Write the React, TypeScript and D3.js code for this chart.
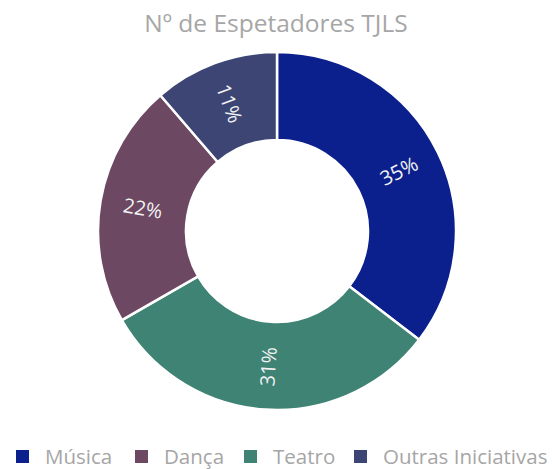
import React from "react";
import * as d3 from "d3";

const title = "Nº de Espetadores TJLS";
const sliceCategories = ["Música", "Teatro", "Dança", "Outras Iniciativas"];
const sliceValues = [35.4, 31.3, 22.0, 11.3];
const sliceLabels = ["35%", "31%", "22%", "11%"];
const legendCategories = ["Música", "Dança", "Teatro", "Outras Iniciativas"];
const colors: Record<string, string> = {
  "Música": "#0B1F8D",
  "Dança": "#6D4862",
  "Teatro": "#3E8373",
  "Outras Iniciativas": "#3C4573",
};

const W = 552;
const H = 469;
const cx = 277;
const cy = 231;
const outerR = 179;
const innerR = 91;
const labelR = 136;
const font = "'Open Sans', sans-serif";

export default function App() {
  const data = sliceCategories.map((c, i) => ({ c, v: sliceValues[i], l: sliceLabels[i] }));
  const pie = d3.pie<any>().sort(null).value((d) => d.v).startAngle(0).endAngle(2 * Math.PI);
  const arcs = pie(data);
  const arc = d3.arc<any>().innerRadius(innerR).outerRadius(outerR);

  const legendX = [16, 135, 244, 354];

  return (
    <svg width={W} height={H} style={{ position: "absolute", left: 0, top: 0, background: "#fff" }}>
      <text x={276} y={32} textAnchor="middle" fontFamily={font} fontSize={24.5} fill="#A6A6A6">
        {title}
      </text>
      <g transform={`translate(${cx},${cy})`}>
        {arcs.map((a, i) => (
          <path key={i} d={arc(a) as string} fill={colors[a.data.c]} stroke="#fff" strokeWidth={2.5} />
        ))}
        {arcs.map((a, i) => {
          const mid = (a.startAngle + a.endAngle) / 2;
          const x = labelR * Math.sin(mid);
          const y = -labelR * Math.cos(mid);
          let rot = (mid * 180) / Math.PI - 90;
          while (rot > 90) rot -= 180;
          while (rot < -90) rot += 180;
          return (
            <text
              key={i}
              transform={`translate(${x},${y}) rotate(${rot})`}
              textAnchor="middle"
              dominantBaseline="central"
              fontFamily={font}
              fontSize={20}
              fill="#F2F2F2"
            >
              {a.data.l}
            </text>
          );
        })}
      </g>
      {legendCategories.map((c, i) => (
        <g key={c} transform={`translate(${legendX[i]},0)`}>
          <rect x={0} y={450} width={13} height={13} fill={colors[c]} />
          <text x={29} y={464} fontFamily={font} fontSize={20.5} fill="#A6A6A6">
            {c}
          </text>
        </g>
      ))}
    </svg>
  );
}
